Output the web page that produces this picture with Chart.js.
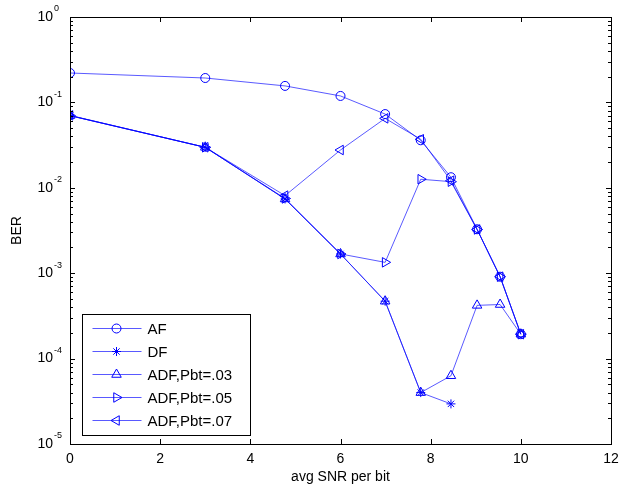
<!DOCTYPE html>
<html>
<head>
<meta charset="utf-8">
<script src="https://cdn.jsdelivr.net/npm/chart.js@4/dist/chart.umd.min.js"></script>
<style>
  body { margin: 0; background: #fff; }
  canvas { display: block; }
</style>
</head>
<body>
<canvas id="berChart" width="620" height="491"></canvas>
<script>
// avg SNR per bit (dB)
const snrDb = [0, 3, 4.77, 6, 6.99, 7.78, 8.45, 9.03, 9.54, 10];

// BER curves
const berAF    = [0.221, 0.193, 0.156, 0.119, 0.073, 0.036, 0.0133, 0.00327, 0.00091, 0.000193];
const berDF    = [0.0700, 0.0298, 0.0074, 0.00168, 0.00047, 4.0e-5, 2.95e-5];
const berADF03 = [0.0700, 0.0298, 0.0074, 0.00168, 0.00047, 4.0e-5, 6.3e-5, 0.00042, 0.00043, 0.000193];
const berADF05 = [0.0700, 0.0298, 0.0075, 0.00168, 0.00134, 0.0126, 0.0118, 0.00325, 0.00091, 0.000193];
const berADF07 = [0.0705, 0.0298, 0.0081, 0.0277, 0.065, 0.037, 0.0121, 0.00325, 0.00091, 0.000193];

const seriesNames = ['AF', 'DF', 'ADF,Pbt=.03', 'ADF,Pbt=.05', 'ADF,Pbt=.07'];

// axis ticks
const xTicks = [0, 2, 4, 6, 8, 10, 12];
const yTicks = [1, 1e-1, 1e-2, 1e-3, 1e-4, 1e-5];
const yExponents = ['0', '-1', '-2', '-3', '-4', '-5'];

const FONT = '"Liberation Sans", Arial, sans-serif';
const BLUE = '#0000ff';
const LINE = 'rgba(0,0,255,0.65)';

function toPoints(ys) {
    return ys.map((y, i) => ({ x: snrDb[i], y: y }));
}

function makeSet(label, ys, style, rotation) {
    return {
        label: label,
        data: toPoints(ys),
        borderColor: LINE,
        borderWidth: 1,
        pointStyle: style,
        rotation: rotation,
        pointRadius: style == 'circle' ? 4.5 : (style == 'star' ? 4.5 : 5.5),
        pointBorderColor: BLUE,
        pointBackgroundColor: 'rgba(0,0,0,0)',
        pointBorderWidth: 1,
        fill: false,
        tension: 0
    };
}

// no extra room for labels hanging over the ends of an axis
function noOverhang(s) {
    s.paddingLeft = 0; s.paddingRight = 0;
    s.paddingTop = 0; s.paddingBottom = 0;
}

// inward ticks, minor log ticks and the box round the axes
const axesBox = {
    id: 'axesBox',
    afterDatasetsDraw(chart) {
        const ctx = chart.ctx;
        const a = chart.chartArea;
        const xs = chart.scales.x, ys = chart.scales.y;
        ctx.save();
        ctx.strokeStyle = '#000';
        ctx.lineWidth = 1;
        ctx.beginPath();
        xTicks.forEach(v => {
            const px = Math.round(xs.getPixelForValue(v)) + 0.5;
            ctx.moveTo(px, a.bottom); ctx.lineTo(px, a.bottom - 5);
            ctx.moveTo(px, a.top); ctx.lineTo(px, a.top + 5);
        });
        for (let e = -5; e <= 0; e++) {
            for (let k = 1; k <= 9; k++) {
                const v = k * Math.pow(10, e);
                if (v > 1) break;
                const len = k == 1 ? 5 : 3;
                const py = Math.round(ys.getPixelForValue(v)) + 0.5;
                ctx.moveTo(a.left, py); ctx.lineTo(a.left + len, py);
                ctx.moveTo(a.right, py); ctx.lineTo(a.right - len, py);
            }
        }
        ctx.stroke();
        ctx.strokeRect(Math.round(a.left) + 0.5, Math.round(a.top) + 0.5,
                       Math.round(a.right - a.left), Math.round(a.bottom - a.top));

        // superscript exponents for 10^n labels
        ctx.fillStyle = '#000';
        ctx.font = '9px ' + FONT;
        ctx.textAlign = 'left';
        ctx.textBaseline = 'middle';
        yTicks.forEach((v, i) => {
            const py = ys.getPixelForValue(v);
            ctx.fillText(yExponents[i], 54, py - 8);
        });
        ctx.restore();
    }
};

// legend box in the lower left corner of the axes
const legendBox = {
    id: 'legendBox',
    afterDraw(chart) {
        const ctx = chart.ctx;
        const a = chart.chartArea;
        const left = a.left + 12.5, right = a.left + 180.5;
        const bottom = a.bottom - 8.5, top = bottom - 121;
        ctx.save();
        ctx.fillStyle = '#fff';
        ctx.fillRect(left, top, right - left, bottom - top);
        ctx.strokeStyle = '#000';
        ctx.lineWidth = 1;
        ctx.strokeRect(left, top, right - left, bottom - top);
        chart.data.datasets.forEach((ds, i) => {
            const y = top + 14 + i * 23;
            ctx.strokeStyle = LINE;
            ctx.beginPath();
            ctx.moveTo(left + 10, y); ctx.lineTo(left + 59, y);
            ctx.stroke();
            ctx.strokeStyle = BLUE;
            ctx.fillStyle = 'rgba(0,0,0,0)';
            Chart.helpers.drawPoint(ctx, {
                pointStyle: ds.pointStyle,
                radius: ds.pointRadius,
                rotation: ds.rotation || 0,
                borderWidth: 1
            }, left + 34, y);
            ctx.fillStyle = '#000';
            ctx.font = '15px ' + FONT;
            ctx.textAlign = 'left';
            ctx.textBaseline = 'middle';
            ctx.fillText(ds.label, left + 65, y + 1);
        });
        ctx.restore();
    }
};

new Chart(document.getElementById('berChart').getContext('2d'), {
    type: 'line',
    data: {
        datasets: [
            makeSet(seriesNames[0], berAF, 'circle', 0),
            makeSet(seriesNames[1], berDF, 'star', 0),
            makeSet(seriesNames[2], berADF03, 'triangle', 0),
            makeSet(seriesNames[3], berADF05, 'triangle', 90),
            makeSet(seriesNames[4], berADF07, 'triangle', -90)
        ]
    },
    options: {
        responsive: false,
        animation: false,
        devicePixelRatio: 1,
        layout: { padding: { top: 17, right: 9, left: 0, bottom: 0 } },
        plugins: {
            legend: { display: false },
            tooltip: { enabled: false }
        },
        scales: {
            x: {
                type: 'linear',
                min: 0,
                max: 12,
                afterBuildTicks: s => { s.ticks = xTicks.map(v => ({ value: v })); },
                afterFit: s => { s.height = 47; noOverhang(s); },
                grid: { display: false, drawTicks: false },
                border: { display: false },
                ticks: { color: '#000', padding: 7, font: { family: FONT, size: 14 }, maxRotation: 0 },
                title: {
                    display: true,
                    text: 'avg SNR per bit',
                    color: '#000',
                    font: { family: FONT, size: 14 },
                    padding: { top: 0, bottom: 5 }
                }
            },
            y: {
                type: 'logarithmic',
                min: 1e-5,
                max: 1,
                afterBuildTicks: s => { s.ticks = yTicks.map(v => ({ value: v })); },
                afterFit: s => { s.width = 70; noOverhang(s); },
                grid: { display: false, drawTicks: false },
                border: { display: false },
                ticks: {
                    color: '#000',
                    padding: 17,
                    autoSkip: false,
                    font: { family: FONT, size: 14 },
                    callback: () => '10'
                },
                title: {
                    display: true,
                    text: 'BER',
                    color: '#000',
                    font: { family: FONT, size: 14 },
                    padding: { top: 9, bottom: 0 }
                }
            }
        }
    },
    plugins: [axesBox, legendBox]
});
</script>
</body>
</html>
